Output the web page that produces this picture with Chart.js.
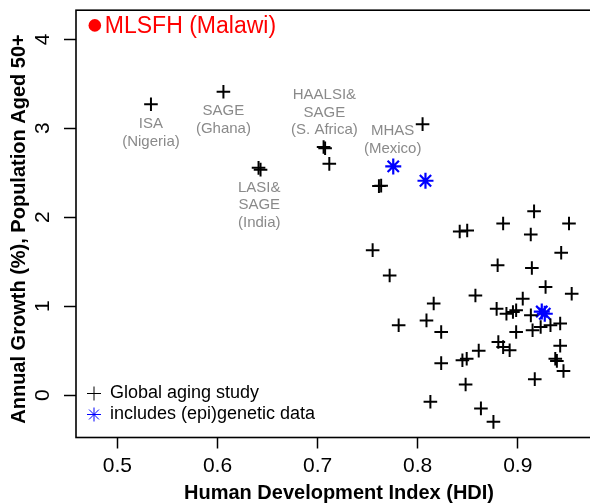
<!DOCTYPE html>
<html><head><meta charset="utf-8">
<script src="https://cdn.jsdelivr.net/npm/chart.js@4.4.0/dist/chart.umd.min.js"></script>
<style>html,body{margin:0;padding:0;background:#fff;overflow:hidden}</style>
</head><body>
<canvas id="c" width="590" height="503" style="width:590px;height:503px;display:block"></canvas>
<script>
// ---- data ----
const globalHDI = [0.5335,0.6059,0.6410,0.6430,0.7060,0.7075,0.7117,0.8049,0.7613,0.7635,
  0.7550,0.7720,0.8420,0.8495,0.9163,0.8854,0.9512,0.9130,0.9434,0.8799,
  0.9141,0.8160,0.8088,0.8235,0.8577,0.9278,0.9539,0.9050,0.8789,0.8887,
  0.8952,0.8984,0.9131,0.9424,0.9327,0.9229,0.9148,0.8984,0.8806,0.8854,
  0.8919,0.9424,0.9375,0.9391,0.9457,0.9170,0.8235,0.8447,0.8490,0.8610,
  0.8479,0.8127,0.8632,0.8757,0.7810];
const globalGrowth = [3.27,3.41,2.555,2.535,2.79,2.775,2.60,3.046,2.35,2.355,
  1.63,1.345,1.839,1.85,2.066,1.93,1.93,1.805,1.60,1.46,
  1.43,1.03,0.84,0.71,1.12,1.215,1.14,1.085,0.97,0.915,
  0.935,0.955,0.897,0.805,0.785,0.766,0.73,0.71,0.598,0.54,
  0.504,0.555,0.41,0.385,0.272,0.18,0.36,0.392,0.41,0.50,
  0.12,-0.075,-0.149,-0.30,0.785];
const epiHDI = [0.7756,0.8078,0.9240,0.9270];
const epiGrowth = [2.571,2.41,0.94,0.915];
const mlsfhHDI = [0.4774];
const mlsfhGrowth = [4.156];
const xTickValues = [0.5,0.6,0.7,0.8,0.9];
const yTickValues = [0,1,2,3,4];
const studyLabels = [
  {x:0.5335, y:3.046, lines:["ISA","(Nigeria)"]},
  {x:0.6059, y:3.195, lines:["SAGE","(Ghana)"]},
  {x:0.6417, y:2.335, lines:["LASI&","SAGE","(India)"]},
  {x:0.7068, y:3.374, lines:["HAALSI&","SAGE","(S. Africa)"]},
  {x:0.7750, y:2.971, lines:["MHAS","(Mexico)"]}
];

const toPts = (xs, ys) => xs.map((v, i) => ({x: v, y: ys[i]}));
const FONT = '"Liberation Sans", Arial, Helvetica, sans-serif';

const overlay = {
  id: 'overlay',
  beforeDatasetsDraw(chart) {
    const {ctx, chartArea: a} = chart;
    ctx.save();
    ctx.strokeStyle = '#000';
    ctx.lineWidth = 1.6;
    ctx.strokeRect(a.left, a.top, a.right - a.left + 20, a.bottom - a.top);
    ctx.restore();
  },
  afterDraw(chart) {
    const {ctx, chartArea: a, scales} = chart;
    const xs = scales.x, ys = scales.y;
    ctx.save();
    // y tick labels (rotated)
    ctx.fillStyle = '#000';
    ctx.font = '21px ' + FONT;
    ctx.textAlign = 'center';
    ctx.textBaseline = 'middle';
    ys.ticks.forEach(t => {
      if (!yTickValues.includes(Math.round(t.value * 1000) / 1000)) return;
      const py = ys.getPixelForValue(t.value);
      ctx.save();
      ctx.translate(43, py);
      ctx.rotate(-Math.PI / 2);
      ctx.fillText(String(Math.round(t.value)), 0, 0);
      ctx.restore();
    });
    // axis titles
    ctx.font = 'bold 20px ' + FONT;
    ctx.fillText('Human Development Index (HDI)', 339, 493);
    ctx.save();
    ctx.translate(19, 229);
    ctx.rotate(-Math.PI / 2);
    ctx.fillText('Annual Growth (%), Population Aged 50+', 0, 0);
    ctx.restore();
    // study annotations
    ctx.fillStyle = '#8a8a8a';
    ctx.font = '15px ' + FONT;
    studyLabels.forEach(l => {
      const px = xs.getPixelForValue(l.x), py = ys.getPixelForValue(l.y);
      l.lines.forEach((s, i) => ctx.fillText(s, px, py + i * 17.6));
    });
    // MLSFH label
    ctx.fillStyle = '#ff0000';
    ctx.font = '23px ' + FONT;
    ctx.textAlign = 'left';
    ctx.fillText('MLSFH (Malawi)', xs.getPixelForValue(mlsfhHDI[0]) + 10, ys.getPixelForValue(mlsfhGrowth[0]) + 1);
    // legend
    const lx = a.left + 18, ly1 = a.bottom - 44, ly2 = a.bottom - 23;
    ctx.strokeStyle = '#000';
    Chart.helpers.drawPoint(ctx, {pointStyle: 'cross', radius: 7, borderWidth: 1.8, rotation: 0}, lx, ly1);
    ctx.strokeStyle = '#0000ff';
    ctx.fillStyle = '#0000ff';
    Chart.helpers.drawPoint(ctx, {pointStyle: 'star', radius: 7, borderWidth: 2, rotation: 0}, lx, ly2);
    ctx.fillStyle = '#000';
    ctx.font = '18px ' + FONT;
    ctx.textBaseline = 'middle';
    ctx.fillText('Global aging study', lx + 16, ly1);
    ctx.fillText('includes (epi)genetic data', lx + 16, ly2);
    ctx.restore();
  }
};

new Chart(document.getElementById('c'), {
  type: 'scatter',
  data: {
    datasets: [
      {label: 'Global aging study', data: toPts(globalHDI, globalGrowth), pointStyle: 'cross',
       pointRadius: 6.8, pointBorderWidth: 2, borderColor: '#000', backgroundColor: '#000'},
      {label: 'includes (epi)genetic data', data: toPts(epiHDI, epiGrowth), pointStyle: 'star',
       pointRadius: 8, pointBorderWidth: 2.2, borderColor: '#0000ff', backgroundColor: '#0000ff'},
      {label: 'MLSFH (Malawi)', data: toPts(mlsfhHDI, mlsfhGrowth), pointStyle: 'circle',
       pointRadius: 6.3, pointBorderWidth: 0, borderColor: '#ff0000', backgroundColor: '#ff0000'}
    ]
  },
  options: {
    responsive: false,
    animation: false,
    events: [],
    layout: {padding: {top: 9, right: 0, left: 0, bottom: 0}},
    plugins: {legend: {display: false}, tooltip: {enabled: false}},
    scales: {
      x: {
        type: 'linear', min: 0.4586, max: 0.962,
        afterFit(s) { s.height = 65.5; },
        border: {display: false},
        grid: {drawOnChartArea: false, drawTicks: true, tickLength: 11, tickColor: '#000', tickWidth: 1.5},
        ticks: {
          includeBounds: false, stepSize: 0.1, color: '#000', padding: 5,
          font: {family: FONT, size: 21},
          callback: v => { const r = Math.round(v * 10) / 10; return xTickValues.includes(r) ? r.toFixed(1) : ''; }
        }
      },
      y: {
        type: 'linear', min: -0.476, max: 4.327,
        afterFit(s) { s.width = 76; },
        border: {display: false},
        grid: {drawOnChartArea: false, drawTicks: true, tickLength: 12, tickColor: '#000', tickWidth: 1.5},
        ticks: {includeBounds: false, stepSize: 1, display: false}
      }
    }
  },
  plugins: [overlay]
});
</script>
</body></html>
